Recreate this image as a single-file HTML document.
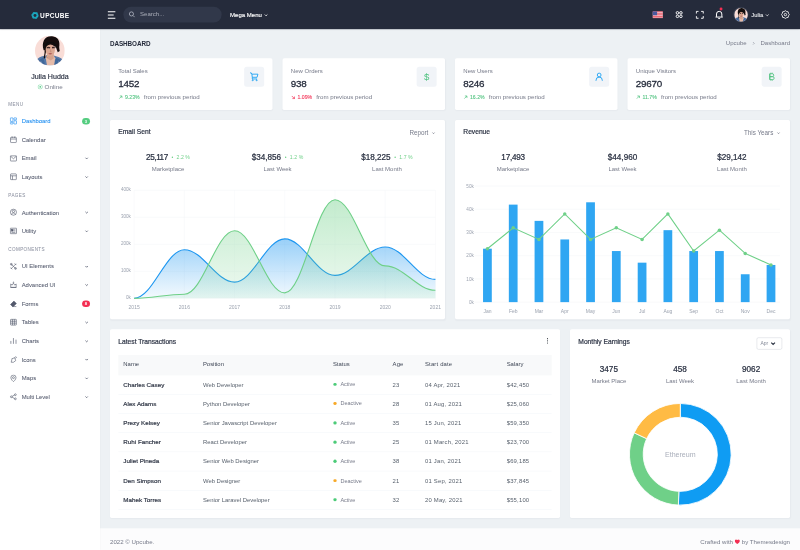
<!DOCTYPE html>
<html lang="en">
<head>
<meta charset="utf-8">
<title>Dashboard | Upcube</title>
<style>
*{box-sizing:border-box;margin:0;padding:0}
html,body{width:800px;height:550px;overflow:hidden;background:#edf1f4}
body{font-family:"Liberation Sans",sans-serif;color:#505d69}
#app{position:absolute;left:0;top:0;width:1920px;height:1320px;transform:scale(0.4166667);transform-origin:0 0;background:#edf1f4;font-size:14.4px;overflow:hidden}
.abs{position:absolute}
#topbar{position:absolute;left:0;top:0;width:1920px;height:70px;background:#252b3b;box-shadow:0 2px 5px rgba(15,34,58,0.14)}
#logo{position:absolute;left:0;top:0;width:240px;height:70px}
#logo .txt{position:absolute;font-weight:bold;color:#fff}
#search{position:absolute;left:296px;top:15.600px;width:236px;height:38px;border-radius:19px;background:#31384a}
#search span{position:absolute;left:40px;top:10px;font-size:14.500px;line-height:17px;color:#a9adb8}
.tb-text{position:absolute;color:#fff;font-size:14.4px;line-height:18px;font-weight:bold}
#sidebar{position:absolute;left:0;top:70px;width:240px;height:1250px;background:#fff;box-shadow:0 2px 5px rgba(15,34,58,0.12)}
.mtitle{position:absolute;left:20px;font-size:11px;line-height:16px;letter-spacing:0.9px;color:#8d92a1;text-transform:uppercase;-webkit-text-stroke:0.1px #8d92a1}
.mitem{position:absolute;left:0;width:240px;height:44.750px}
.mitem .lbl{position:absolute;left:52px;top:13.400px;font-size:14.2px;line-height:18px;color:#545a6d;-webkit-text-stroke:0.12px #545a6d}
.mitem.active .lbl{color:#1a8cf0;-webkit-text-stroke:0.12px #1a8cf0}
.mitem svg.ic{position:absolute;left:23.3px;top:13.200px;width:18.5px;height:18.5px;fill:none;stroke:#545a6d;stroke-width:1.9}
.mitem.active svg.ic{stroke:#1a8cf0}
.mitem svg.ch{position:absolute;left:202.5px;top:17.900px;width:10px;height:10px;fill:none;stroke:#545a6d;stroke-width:2.3}
.badge{position:absolute;left:196.5px;top:14.5px;width:19.5px;height:16px;border-radius:8px;color:#fff;font-size:10px;line-height:16px;text-align:center;font-weight:bold}
.card{position:absolute;background:#fff;border-radius:4px;box-shadow:0 2px 4px rgba(15,34,58,0.03)}
.ctitle{position:absolute;font-size:16px;line-height:20px;color:#2a3142;font-weight:normal;-webkit-text-stroke:0.45px #2a3142}
.muted{color:#767a89}
.stat .t{position:absolute;left:20px;top:21px;font-size:14.4px;line-height:18px;color:#767a89}
.stat .n{position:absolute;left:20px;top:47.5px;font-size:23.6px;line-height:26px;color:#252b3b;font-weight:normal;-webkit-text-stroke:0.65px #252b3b;letter-spacing:-0.6px}
.stat .p{position:absolute;left:20px;top:83.8px;font-size:14.700px;line-height:18px;color:#767a89;white-space:nowrap}
.stat .p b{font-size:12.4px;font-weight:normal;margin-right:10px;-webkit-text-stroke:0.2px currentColor}
.stat .ib{position:absolute;left:322px;top:20px;width:48px;height:48px;border-radius:6px;background:#f1f4f8}
.col3{position:absolute;text-align:center;white-space:nowrap}
.col3 .v{font-size:19.5px;line-height:24px;height:24px;font-weight:normal;-webkit-text-stroke:0.55px #2a3142;color:#2a3142}
.col3 .v small{font-size:12.3px;font-weight:normal;-webkit-text-stroke:0 transparent;color:#6fd088;margin-left:9px;position:relative;top:-2px;letter-spacing:0.2px}
.col3 .l{font-size:14.4px;line-height:18px;color:#767a89;margin-top:5px}
#tbl{position:absolute;left:20px;top:62px;width:1040px}
#tbl .hr{position:absolute;left:0;top:0;width:1040px;height:48.5px;background:#f8f9fa}
#tbl .r{position:absolute;left:0;width:1040px;height:46.2px;border-bottom:1px solid #eff2f7}
#tbl span{position:absolute;top:13px;font-size:14.2px;line-height:18px;color:#58616d;white-space:nowrap}
#tbl .hr span{top:12.8px;color:#3f4756}
#tbl .c1{left:12px}#tbl .c2{left:203px}#tbl .c3{left:515px}#tbl .c4{left:658px}#tbl .c5{left:736px}#tbl .c6{left:932px}
#tbl .r .c1{font-weight:normal;color:#2f3645;font-size:15px;-webkit-text-stroke:0.45px #2f3645}
#tbl .r .c3{font-size:13.2px;left:533px;color:#767a89}
#tbl .c4,#tbl .r .c5,#tbl .r .c6{letter-spacing:0.45px}
#tbl .hr .c5{letter-spacing:0.4px}
#tbl .r i{position:absolute;left:516px;top:18px;width:7.8px;height:7.8px;border-radius:50%;background:#4ccb78}
#tbl .r i.w{background:#f7a928}
#footer{position:absolute;left:240px;top:1268px;width:1680px;height:52px;background:#fcfcfd;font-size:14.7px;color:#767a89}
</style>
</head>
<body>
<div id="app">
<div class="abs" style="left:264px;top:95px;font-size:15.2px;line-height:20px;font-weight:bold;color:#252b3b;letter-spacing:-0.2px">DASHBOARD</div>
<div class="abs" style="left:1700px;top:94.5px;width:196px;text-align:right;font-size:14.5px;line-height:18px;color:#767a89;white-space:nowrap">Upcube<svg style="width:10px;height:10px;margin:0 11px 0 12px" viewBox="0 0 12 12" fill="none" stroke="#767a89" stroke-width="1.500"><path d="M4 2.500L7.500 6 4 9.500"/></svg>Dashboard</div>
<div class="card stat" style="left:264px;top:140px;width:390px;height:124px"><div class="t">Total Sales</div><div class="n">1452</div><div class="p"><svg style="width:11px;height:11px;margin-right:5px;position:relative;top:1px" viewBox="0 0 12 12" fill="none" stroke="#4ec27e" stroke-width="1.800"><path d="M2.500 9.500L9.500 2.500M4 2.500h5.500V8"/></svg><b style="color:#4ec27e">9.23%</b>from previous period</div><div class="ib"><svg class="abs" style="left:12px;top:12px;width:24px;height:24px" viewBox="0 0 24 24" fill="none" stroke="#0f9cf3" stroke-width="2"><path d="M2 3h3l1.500 3M6.500 6H21l-2 7.500H7.500zM7.500 13.500v4H19"/><circle cx="8.500" cy="20.500" r="1.300"/><circle cx="18" cy="20.500" r="1.300"/></svg></div></div>
<div class="card stat" style="left:678px;top:140px;width:390px;height:124px"><div class="t">New Orders</div><div class="n">938</div><div class="p"><svg style="width:11px;height:11px;margin-right:5px;position:relative;top:1px" viewBox="0 0 12 12" fill="none" stroke="#f32f53" stroke-width="1.800"><path d="M2.500 2.500l7 7M4 9.500h5.500V4"/></svg><b style="color:#f32f53">1.09%</b>from previous period</div><div class="ib"><div class="abs" style="left:0;top:11px;width:48px;text-align:center;font-size:23px;line-height:26px;color:#4ec27e;font-weight:normal">$</div></div></div>
<div class="card stat" style="left:1092px;top:140px;width:390px;height:124px"><div class="t">New Users</div><div class="n">8246</div><div class="p"><svg style="width:11px;height:11px;margin-right:5px;position:relative;top:1px" viewBox="0 0 12 12" fill="none" stroke="#4ec27e" stroke-width="1.800"><path d="M2.500 9.500L9.500 2.500M4 2.500h5.500V8"/></svg><b style="color:#4ec27e">16.2%</b>from previous period</div><div class="ib"><svg class="abs" style="left:12px;top:12px;width:24px;height:24px" viewBox="0 0 24 24" fill="none" stroke="#0f9cf3" stroke-width="2"><circle cx="12" cy="8" r="4.500"/><path d="M4.500 22v-1.500a7.500 7.500 0 0115 0V22"/></svg></div></div>
<div class="card stat" style="left:1506px;top:140px;width:390px;height:124px"><div class="t">Unique Visitors</div><div class="n">29670</div><div class="p"><svg style="width:11px;height:11px;margin-right:5px;position:relative;top:1px" viewBox="0 0 12 12" fill="none" stroke="#4ec27e" stroke-width="1.800"><path d="M2.500 9.500L9.500 2.500M4 2.500h5.500V8"/></svg><b style="color:#4ec27e">11.7%</b>from previous period</div><div class="ib"><svg class="abs" style="left:12px;top:12px;width:24px;height:24px" viewBox="0 0 24 24" fill="none" stroke="#4ec27e" stroke-width="2"><path d="M7.500 5h6a3.400 3.400 0 010 7h-6zM7.500 12h7a3.500 3.500 0 010 7h-7zM7.500 5v14M10 2.500V5M13.500 2.500V5M10 19v2.500M13.500 19v2.500"/></svg></div></div>
<div class="card" style="left:264px;top:288px;width:804px;height:478px">
<div class="ctitle" style="left:20px;top:18px">Email Sent</div>
<div class="abs muted" style="right:23px;top:21.5px;font-size:15.1px;line-height:18px;white-space:nowrap">Report<svg style="width:9px;height:9px;margin-left:8px" viewBox="0 0 12 12" fill="none" stroke="#767a89" stroke-width="2.600"><path d="M2.500 4.200L6 7.700l3.500-3.500"/></svg></div>
<div class="col3" style="left:19.3px;top:77.0px;width:240px"><div class="v"><span style="letter-spacing:-1.0px">25,117</span><small>&#8226;&nbsp; 2.2 %</small></div><div class="l" style="margin-top:8.0px">Marketplace</div></div>
<div class="col3" style="left:282.0px;top:77.0px;width:240px"><div class="v">$34,856<small>&#8226;&nbsp; 1.2 %</small></div><div class="l" style="margin-top:8.0px">Last Week</div></div>
<div class="col3" style="left:544.7px;top:77.0px;width:240px"><div class="v">$18,225<small>&#8226;&nbsp; 1.7 %</small></div><div class="l" style="margin-top:8.0px">Last Month</div></div>
<svg class="abs" style="left:0;top:0;width:804px;height:478px" viewBox="0 0 804 478"><defs><linearGradient id="gb" x1="0" y1="0" x2="0" y2="1"><stop offset="0" stop-color="#1c96f0" stop-opacity="0.45"/><stop offset="1" stop-color="#1c96f0" stop-opacity="0.05"/></linearGradient><linearGradient id="gg" x1="0" y1="0" x2="0" y2="1"><stop offset="0" stop-color="#6fd088" stop-opacity="0.42"/><stop offset="1" stop-color="#6fd088" stop-opacity="0.12"/></linearGradient></defs><path d="M58.0 168.6H781.0" stroke="#f1f3f5" stroke-width="1"/><text x="50" y="170.6" text-anchor="end" font-size="11" fill="#9ba2af">400k</text><path d="M58.0 233.4H781.0" stroke="#f1f3f5" stroke-width="1"/><text x="50" y="235.4" text-anchor="end" font-size="11" fill="#9ba2af">300k</text><path d="M58.0 298.3H781.0" stroke="#f1f3f5" stroke-width="1"/><text x="50" y="300.3" text-anchor="end" font-size="11" fill="#9ba2af">200k</text><path d="M58.0 363.1H781.0" stroke="#f1f3f5" stroke-width="1"/><text x="50" y="365.1" text-anchor="end" font-size="11" fill="#9ba2af">100k</text><path d="M58.0 428.0H781.0" stroke="#f1f3f5" stroke-width="1"/><text x="50" y="430.0" text-anchor="end" font-size="11" fill="#9ba2af">0k</text><path d="M58.0 168.6V436.0" stroke="#f4f5f7" stroke-width="1"/><text x="58.0" y="453.500" text-anchor="middle" font-size="12" fill="#9ba2af">2015</text><path d="M178.5 168.6V436.0" stroke="#f4f5f7" stroke-width="1"/><text x="178.5" y="453.500" text-anchor="middle" font-size="12" fill="#9ba2af">2016</text><path d="M299.0 168.6V436.0" stroke="#f4f5f7" stroke-width="1"/><text x="299.0" y="453.500" text-anchor="middle" font-size="12" fill="#9ba2af">2017</text><path d="M419.5 168.6V436.0" stroke="#f4f5f7" stroke-width="1"/><text x="419.5" y="453.500" text-anchor="middle" font-size="12" fill="#9ba2af">2018</text><path d="M540.0 168.6V436.0" stroke="#f4f5f7" stroke-width="1"/><text x="540.0" y="453.500" text-anchor="middle" font-size="12" fill="#9ba2af">2019</text><path d="M660.5 168.6V436.0" stroke="#f4f5f7" stroke-width="1"/><text x="660.5" y="453.500" text-anchor="middle" font-size="12" fill="#9ba2af">2020</text><path d="M781.0 168.6V436.0" stroke="#f4f5f7" stroke-width="1"/><text x="781.0" y="453.500" text-anchor="middle" font-size="12" fill="#9ba2af">2021</text><path d="M58.0 428.0 C102.6 428.0 133.9 311.3 178.5 311.3 C223.1 311.3 254.4 389.1 299.0 389.1 C343.6 389.1 374.9 285.3 419.5 285.3 C464.1 285.3 495.4 372.9 540.0 372.9 C584.6 372.9 615.9 304.8 660.5 304.8 C705.1 304.8 736.4 382.6 781.0 382.6 L781.0 428.0 L58.0 428.0 Z" fill="url(#gb)"/><path d="M58.0 428.0 C102.6 428.0 133.9 311.3 178.5 311.3 C223.1 311.3 254.4 389.1 299.0 389.1 C343.6 389.1 374.9 285.3 419.5 285.3 C464.1 285.3 495.4 372.9 540.0 372.9 C584.6 372.9 615.9 304.8 660.5 304.8 C705.1 304.8 736.4 382.6 781.0 382.6" fill="none" stroke="#1c96f0" stroke-width="2.700"/><path d="M58.0 428.0 C102.6 428.0 133.9 418.3 178.5 418.3 C223.1 418.3 254.4 265.9 299.0 265.9 C343.6 265.9 374.9 415.0 419.5 415.0 C464.1 415.0 495.4 191.3 540.0 191.3 C584.6 191.3 615.9 350.2 660.5 350.2 C705.1 350.2 736.4 408.5 781.0 408.5 L781.0 428.0 L58.0 428.0 Z" fill="url(#gg)"/><path d="M58.0 428.0 C102.6 428.0 133.9 418.3 178.5 418.3 C223.1 418.3 254.4 265.9 299.0 265.9 C343.6 265.9 374.9 415.0 419.5 415.0 C464.1 415.0 495.4 191.3 540.0 191.3 C584.6 191.3 615.9 350.2 660.5 350.2 C705.1 350.2 736.4 408.5 781.0 408.5" fill="none" stroke="#6fd088" stroke-width="2.700"/></svg>
</div>
<div class="card" style="left:1092px;top:288px;width:804px;height:478px">
<div class="ctitle" style="left:20px;top:18px">Revenue</div>
<div class="abs muted" style="right:23px;top:21.5px;font-size:15.1px;line-height:18px;white-space:nowrap">This Years<svg style="width:9px;height:9px;margin-left:8px" viewBox="0 0 12 12" fill="none" stroke="#767a89" stroke-width="2.600"><path d="M2.500 4.200L6 7.700l3.500-3.500"/></svg></div>
<div class="col3" style="left:19.3px;top:77.0px;width:240px"><div class="v"><span style="letter-spacing:-0.6px">17,493</span></div><div class="l" style="margin-top:8.0px">Marketplace</div></div>
<div class="col3" style="left:282.0px;top:77.0px;width:240px"><div class="v">$44,960</div><div class="l" style="margin-top:8.0px">Last Week</div></div>
<div class="col3" style="left:544.7px;top:77.0px;width:240px"><div class="v">$29,142</div><div class="l" style="margin-top:8.0px">Last Month</div></div>
<svg class="abs" style="left:0;top:0;width:804px;height:478px" viewBox="0 0 804 478"><path d="M46.900 158.5H780" stroke="#f1f3f5" stroke-width="1"/><text x="45" y="162.5" text-anchor="end" font-size="11" fill="#9ba2af">50k</text><path d="M46.900 214.2H780" stroke="#f1f3f5" stroke-width="1"/><text x="45" y="218.2" text-anchor="end" font-size="11" fill="#9ba2af">40k</text><path d="M46.900 269.9H780" stroke="#f1f3f5" stroke-width="1"/><text x="45" y="273.9" text-anchor="end" font-size="11" fill="#9ba2af">30k</text><path d="M46.900 325.7H780" stroke="#f1f3f5" stroke-width="1"/><text x="45" y="329.7" text-anchor="end" font-size="11" fill="#9ba2af">20k</text><path d="M46.900 381.4H780" stroke="#f1f3f5" stroke-width="1"/><text x="45" y="385.4" text-anchor="end" font-size="11" fill="#9ba2af">10k</text><path d="M46.900 437.1H780" stroke="#f1f3f5" stroke-width="1"/><text x="45" y="441.1" text-anchor="end" font-size="11" fill="#9ba2af">0k</text><rect x="67.3" y="308.9" width="21" height="128.2" fill="#2fa6f2"/><text x="77.8" y="463" text-anchor="middle" font-size="12" fill="#9ba2af">Jan</text><rect x="129.2" y="203.1" width="21" height="234.0" fill="#2fa6f2"/><text x="139.7" y="463" text-anchor="middle" font-size="12" fill="#9ba2af">Feb</text><rect x="191.0" y="242.1" width="21" height="195.0" fill="#2fa6f2"/><text x="201.5" y="463" text-anchor="middle" font-size="12" fill="#9ba2af">Mar</text><rect x="252.9" y="286.7" width="21" height="150.4" fill="#2fa6f2"/><text x="263.4" y="463" text-anchor="middle" font-size="12" fill="#9ba2af">Apr</text><rect x="314.8" y="197.5" width="21" height="239.6" fill="#2fa6f2"/><text x="325.3" y="463" text-anchor="middle" font-size="12" fill="#9ba2af">May</text><rect x="376.6" y="314.5" width="21" height="122.6" fill="#2fa6f2"/><text x="387.1" y="463" text-anchor="middle" font-size="12" fill="#9ba2af">Jun</text><rect x="438.5" y="342.4" width="21" height="94.7" fill="#2fa6f2"/><text x="449.0" y="463" text-anchor="middle" font-size="12" fill="#9ba2af">Jul</text><rect x="500.4" y="264.4" width="21" height="172.7" fill="#2fa6f2"/><text x="510.9" y="463" text-anchor="middle" font-size="12" fill="#9ba2af">Aug</text><rect x="562.3" y="314.5" width="21" height="122.6" fill="#2fa6f2"/><text x="572.8" y="463" text-anchor="middle" font-size="12" fill="#9ba2af">Sep</text><rect x="624.1" y="314.5" width="21" height="122.6" fill="#2fa6f2"/><text x="634.6" y="463" text-anchor="middle" font-size="12" fill="#9ba2af">Oct</text><rect x="686.0" y="370.2" width="21" height="66.9" fill="#2fa6f2"/><text x="696.5" y="463" text-anchor="middle" font-size="12" fill="#9ba2af">Nov</text><rect x="747.9" y="347.9" width="21" height="89.2" fill="#2fa6f2"/><text x="758.4" y="463" text-anchor="middle" font-size="12" fill="#9ba2af">Dec</text><path d="M77.8 308.9 L139.7 258.8 L201.5 286.7 L263.4 225.4 L325.3 286.7 L387.1 258.8 L449.0 286.7 L510.9 225.4 L572.8 314.5 L634.6 264.4 L696.5 320.1 L758.4 347.9" fill="none" stroke="#6fd088" stroke-width="2.600"/><circle cx="77.8" cy="308.9" r="4.200" fill="#6fd088"/><circle cx="139.7" cy="258.8" r="4.200" fill="#6fd088"/><circle cx="201.5" cy="286.7" r="4.200" fill="#6fd088"/><circle cx="263.4" cy="225.4" r="4.200" fill="#6fd088"/><circle cx="325.3" cy="286.7" r="4.200" fill="#6fd088"/><circle cx="387.1" cy="258.8" r="4.200" fill="#6fd088"/><circle cx="449.0" cy="286.7" r="4.200" fill="#6fd088"/><circle cx="510.9" cy="225.4" r="4.200" fill="#6fd088"/><circle cx="572.8" cy="314.5" r="4.200" fill="#6fd088"/><circle cx="634.6" cy="264.4" r="4.200" fill="#6fd088"/><circle cx="696.5" cy="320.1" r="4.200" fill="#6fd088"/><circle cx="758.4" cy="347.9" r="4.200" fill="#6fd088"/></svg>
</div>
<div class="card" style="left:264px;top:790px;width:1080px;height:453px">
<div class="ctitle" style="left:20px;top:20px">Latest Transactions</div>
<svg class="abs" style="left:1046px;top:19px;width:8px;height:18px" viewBox="0 0 8 18" fill="#343a40"><circle cx="4" cy="3.800" r="1.350"/><circle cx="4" cy="9" r="1.350"/><circle cx="4" cy="14.200" r="1.350"/></svg>
<div id="tbl"><div class="hr"><span class="c1">Name</span><span class="c2">Position</span><span class="c3">Status</span><span class="c4">Age</span><span class="c5">Start date</span><span class="c6">Salary</span></div>
<div class="r" style="top:48.5px"><span class="c1">Charles Casey</span><span class="c2">Web Developer</span><i></i><span class="c3">Active</span><span class="c4">23</span><span class="c5">04 Apr, 2021</span><span class="c6">$42,450</span></div>
<div class="r" style="top:94.7px"><span class="c1">Alex Adams</span><span class="c2">Python Developer</span><i class="w"></i><span class="c3">Deactive</span><span class="c4">28</span><span class="c5">01 Aug, 2021</span><span class="c6">$25,060</span></div>
<div class="r" style="top:140.9px"><span class="c1">Prezy Kelsey</span><span class="c2">Senior Javascript Developer</span><i></i><span class="c3">Active</span><span class="c4">35</span><span class="c5">15 Jun, 2021</span><span class="c6">$59,350</span></div>
<div class="r" style="top:187.1px"><span class="c1">Ruhi Fancher</span><span class="c2">React Developer</span><i></i><span class="c3">Active</span><span class="c4">25</span><span class="c5">01 March, 2021</span><span class="c6">$23,700</span></div>
<div class="r" style="top:233.3px"><span class="c1">Juliet Pineda</span><span class="c2">Senior Web Designer</span><i></i><span class="c3">Active</span><span class="c4">38</span><span class="c5">01 Jan, 2021</span><span class="c6">$69,185</span></div>
<div class="r" style="top:279.5px"><span class="c1">Den Simpson</span><span class="c2">Web Designer</span><i class="w"></i><span class="c3">Deactive</span><span class="c4">21</span><span class="c5">01 Sep, 2021</span><span class="c6">$37,845</span></div>
<div class="r" style="top:325.7px"><span class="c1">Mahek Torres</span><span class="c2">Senior Laravel Developer</span><i></i><span class="c3">Active</span><span class="c4">32</span><span class="c5">20 May, 2021</span><span class="c6">$55,100</span></div>
</div></div>
<div class="card" style="left:1368px;top:790px;width:528px;height:453px">
<div class="ctitle" style="left:20px;top:20px">Monthly Earnings</div>
<div class="abs" style="left:448px;top:20px;width:61px;height:29px;border:1.3px solid #c6ccd4;border-radius:4px;background:#fff"><span class="abs" style="left:8px;top:5.5px;font-size:12px;line-height:15px;color:#858a98">Apr</span><svg class="abs" style="left:31.500px;top:8px;width:13px;height:12px" viewBox="0 0 13 12" fill="none" stroke="#2f3645" stroke-width="2.900"><path d="M2 3.300L6.500 7.800l4.500-4.500"/></svg></div>
<div class="col3" style="left:-26.7px;top:84.0px;width:240px"><div class="v">3475</div><div class="l" style="margin-top:8.0px">Market Place</div></div>
<div class="col3" style="left:144.0px;top:84.0px;width:240px"><div class="v">458</div><div class="l" style="margin-top:8.0px">Last Week</div></div>
<div class="col3" style="left:314.7px;top:84.0px;width:240px"><div class="v">9062</div><div class="l" style="margin-top:8.0px">Last Month</div></div>
<svg class="abs" style="left:0;top:0;width:528px;height:453px" viewBox="0 0 528 453"><path d="M264.70 178.30 A122.0 122.0 0 1 1 260.08 422.21 L261.33 389.24 A89.0 89.0 0 1 0 264.70 211.30 Z" fill="#0f9cf3" stroke="#fff" stroke-width="2"/><path d="M260.08 422.21 A122.0 122.0 0 0 1 154.08 248.86 L184.00 262.77 A89.0 89.0 0 0 0 261.33 389.24 Z" fill="#6fd088" stroke="#fff" stroke-width="2"/><path d="M154.08 248.86 A122.0 122.0 0 0 1 264.70 178.30 L264.70 211.30 A89.0 89.0 0 0 0 184.00 262.77 Z" fill="#ffbb44" stroke="#fff" stroke-width="2"/><text x="264.7" y="305.8" text-anchor="middle" font-size="17" fill="#a9aeba">Ethereum</text></svg>
</div>
<div id="footer"><div class="abs" style="left:24px;top:23px;line-height:18px">2022 &copy; Upcube.</div><div class="abs" style="right:24px;top:23px;line-height:18px;white-space:nowrap">Crafted with <svg style="width:13px;height:12px;position:relative;top:1px" viewBox="0 0 24 22"><path d="M12 21.500C5 15.500 1 12 1 7.500A6 6 0 0112 4a6 6 0 0111 3.500c0 4.500-4 8-11 14z" fill="#f32f53"/></svg> by Themesdesign</div></div>
<div id="sidebar">
<svg class="abs" style="left:0;top:0;width:0;height:0" viewBox="0 0 72 72"><defs>
<filter id="bl" x="-10%" y="-10%" width="120%" height="120%"><feGaussianBlur stdDeviation="1.1"/></filter>
<clipPath id="cb"><circle cx="36" cy="36" r="36"/></clipPath>
<g id="face" clip-path="url(#cb)"><rect width="72" height="72" fill="#f9ddd7"/>
<g filter="url(#bl)">
<path d="M0 72c0-13 7-20 20-23l9-2h14l10 3c11 3 19 9 19 22z" fill="#5579a8"/>
<path d="M3 72c2-10 8-15 17-19l5 19zM69 72c-2-10-8-16-18-19l-5 19z" fill="#41679a"/>
<path d="M14 60l6 12h-9zM58 60l-5 12h9z" fill="#7e9bc0"/>
<path d="M26 54l5-8h13l5 8-3 18H29z" fill="#e5bba9"/>
<path d="M30 43h15v12l-7 5-8-5z" fill="#d3a18c"/>
<path d="M21 35C15 16 23 1 39 1c13-1 21 8 20 21-1 6 0 10 1 15l-5 3-5-14-14-7-8 10-2 13c-1 4-2 8-2 13l-3-1c1-8 3-13 2-20z" fill="#120d0d"/>
<ellipse cx="37" cy="34.500" rx="11.200" ry="15" fill="#dba792"/>
<path d="M25 26c2-9 9-12 16-10 7 2 10 7 9 14-2-5-6-8-12-9-4 1-9 2-13 5z" fill="#120d0d"/>
<path d="M28 27.500c2.500-1.800 6.500-1.800 9 0l-.8 3.200c-2.500-1-5-1-7.400 0z" fill="#3a2626"/>
<path d="M41 27.500c2-1.500 5-1.500 7 0l-.5 3c-2-.8-4-.8-6 0z" fill="#3a2626"/>
<path d="M32 43c2.500-2 7-2 10 0-2.500 3-7.500 3-10 0z" fill="#b05d58"/>
<path d="M38 31l2 8.500-4 .5z" fill="#c78d7a"/>
<path d="M24 40c1 6 4 10 7 12l-1 3c-4-3-6-8-6-15z" fill="#b98a77"/>
</g></g></defs></svg>
<svg class="abs" style="left:84.300px;top:16.300px;width:71.400px;height:71.400px" viewBox="0 0 72 72"><use href="#face"/></svg>

<div class="abs" style="left:0;top:104.5px;width:240px;text-align:center;font-size:17px;line-height:20px;color:#2a3142;-webkit-text-stroke:0.4px #2a3142">Julia Hudda</div>
<svg class="abs" style="left:90px;top:132px;width:13px;height:13px" viewBox="0 0 14 14"><circle cx="7" cy="7" r="5.700" fill="none" stroke="#5fcf8c" stroke-width="1.300"/><circle cx="7" cy="7" r="2" fill="#46c37b"/></svg>
<div class="abs" style="left:107px;top:129px;font-size:15px;line-height:18px;color:#767a89">Online</div>
<div class="mtitle" style="top:171.8px">Menu</div>
<div class="mitem active" style="top:198.0px"><svg class="ic" viewBox="0 0 24 24"><rect x="2.5" y="2.500" width="8" height="11" rx="1"/><rect x="13.500" y="2.500" width="8" height="6" rx="1"/><rect x="2.500" y="16.500" width="8" height="5" rx="1"/><rect x="13.500" y="11.500" width="8" height="10" rx="1"/></svg><div class="lbl">Dashboard</div><div class="badge" style="background:#55cd80">3</div></div>
<div class="mitem" style="top:242.8px"><svg class="ic" viewBox="0 0 24 24"><rect x="3" y="4.500" width="18" height="16.500" rx="2"/><path d="M3 10h18M8 2v5M16 2v5"/></svg><div class="lbl">Calendar</div></div>
<div class="mitem" style="top:287.5px"><svg class="ic" viewBox="0 0 24 24"><rect x="2.500" y="4" width="19" height="16" rx="1.500"/><path d="M3 5l9 8 9-8"/></svg><div class="lbl">Email</div><svg class="ch" viewBox="0 0 12 12"><path d="M2.5 4.2L6 7.7l3.5-3.5"/></svg></div>
<div class="mitem" style="top:332.2px"><svg class="ic" viewBox="0 0 24 24"><rect x="3" y="3" width="18" height="18" rx="1.500"/><path d="M3 9h18M9 9v12"/></svg><div class="lbl">Layouts</div><svg class="ch" viewBox="0 0 12 12"><path d="M2.5 4.2L6 7.7l3.5-3.5"/></svg></div>
<div class="mtitle" style="top:391.0px">Pages</div>
<div class="mitem" style="top:417.2px"><svg class="ic" viewBox="0 0 24 24"><circle cx="12" cy="12" r="9.500"/><circle cx="12" cy="9.500" r="3.500"/><path d="M5.500 19c1.500-3.500 4-4.500 6.500-4.500s5 1 6.500 4.500"/></svg><div class="lbl">Authentication</div><svg class="ch" viewBox="0 0 12 12"><path d="M2.5 4.2L6 7.7l3.5-3.5"/></svg></div>
<div class="mitem" style="top:461.9px"><svg class="ic" viewBox="0 0 24 24"><rect x="2.500" y="3.500" width="19" height="17" rx="1"/><rect x="6" y="7.500" width="5" height="5" fill="#545a6d"/><path d="M14 8.500h4M14 12h4M6 16.500h12"/></svg><div class="lbl">Utility</div><svg class="ch" viewBox="0 0 12 12"><path d="M2.5 4.2L6 7.7l3.5-3.5"/></svg></div>
<div class="mtitle" style="top:520.7px">Components</div>
<div class="mitem" style="top:546.9px"><svg class="ic" viewBox="0 0 24 24"><path d="M4 4l16 16M20 4L4 20"/><circle cx="5.500" cy="5.500" r="2.800"/><circle cx="18.500" cy="18.500" r="2.800"/><path d="M16 3l5 5M3 16l5 5"/></svg><div class="lbl">UI Elements</div><svg class="ch" viewBox="0 0 12 12"><path d="M2.5 4.2L6 7.7l3.5-3.5"/></svg></div>
<div class="mitem" style="top:591.6px"><svg class="ic" viewBox="0 0 24 24"><path d="M3 19.500h18M3.500 19V8.500l4.500 3.500 4-6 4 6 4.500-3.500V19z"/><circle cx="12" cy="3" r="1.200"/></svg><div class="lbl">Advanced UI</div><svg class="ch" viewBox="0 0 12 12"><path d="M2.5 4.2L6 7.7l3.5-3.5"/></svg></div>
<div class="mitem" style="top:636.4px"><svg class="ic" viewBox="0 0 24 24"><path d="M9 20L3 14 13.500 3.500l7.500 7.500L12 20z" fill="#545a6d"/><path d="M8 20.500h13"/></svg><div class="lbl">Forms</div><div class="badge" style="background:#f32f53">8</div></div>
<div class="mitem" style="top:681.1px"><svg class="ic" viewBox="0 0 24 24"><rect x="3" y="3" width="18" height="18" rx="1.500"/><path d="M3 9h18M3 15h18M9 3v18M15 3v18" /></svg><div class="lbl">Tables</div><svg class="ch" viewBox="0 0 12 12"><path d="M2.5 4.2L6 7.7l3.5-3.5"/></svg></div>
<div class="mitem" style="top:725.9px"><svg class="ic" viewBox="0 0 24 24"><path d="M4 12v9M12 3v18M20 8v13" stroke-width="2"/></svg><div class="lbl">Charts</div><svg class="ch" viewBox="0 0 12 12"><path d="M2.5 4.2L6 7.7l3.5-3.5"/></svg></div>
<div class="mitem" style="top:770.6px"><svg class="ic" viewBox="0 0 24 24"><path d="M7 9l9-3 3 9-7 5H5c0-3 2-5 2-8z"/><path d="M16 6l3-3.500 2.500 2.500L19 8"/></svg><div class="lbl">Icons</div><svg class="ch" viewBox="0 0 12 12"><path d="M2.5 4.2L6 7.7l3.5-3.5"/></svg></div>
<div class="mitem" style="top:815.4px"><svg class="ic" viewBox="0 0 24 24"><path d="M12 22s-8-6.500-8-12.500a8 8 0 0116 0C20 15.500 12 22 12 22z"/><circle cx="12" cy="9.500" r="3"/></svg><div class="lbl">Maps</div><svg class="ch" viewBox="0 0 12 12"><path d="M2.5 4.2L6 7.7l3.5-3.5"/></svg></div>
<div class="mitem" style="top:860.1px"><svg class="ic" viewBox="0 0 24 24"><circle cx="5.500" cy="12" r="2.800"/><circle cx="18" cy="5.500" r="2.800"/><circle cx="18" cy="18.500" r="2.800"/><path d="M8 10.500l7.500-3.800M8 13.500l7.500 3.800"/></svg><div class="lbl">Multi Level</div><svg class="ch" viewBox="0 0 12 12"><path d="M2.5 4.2L6 7.7l3.5-3.5"/></svg></div>
</div>
<div id="topbar">
  <div id="logo">
    <svg class="abs" style="left:74.500px;top:27.500px;width:18px;height:18px" viewBox="0 0 24 24"><path d="M23.60 12.00 L23.20 15.00 L20.83 17.10 L19.21 19.21 L17.80 22.05 L15.00 23.20 L12.00 22.20 L9.36 21.85 L6.20 22.05 L3.80 20.20 L3.17 17.10 L2.15 14.64 L0.40 12.00 L0.80 9.00 L3.17 6.90 L4.79 4.79 L6.20 1.95 L9.00 0.80 L12.00 1.80 L14.64 2.15 L17.80 1.95 L20.20 3.80 L20.83 6.90 L21.85 9.36Z" fill="#1ba5bc" stroke="#1ba5bc" stroke-width="1" stroke-linejoin="round"/><circle cx="12" cy="12" r="4.700" fill="#252b3b"/><circle cx="12" cy="4.500" r="1.400" fill="#35c6dc"/><circle cx="5.500" cy="15.800" r="1.400" fill="#35c6dc"/><circle cx="18.500" cy="15.800" r="1.400" fill="#35c6dc"/></svg>
    <div class="txt" style="left:95.800px;top:25px;font-size:19.2px;line-height:22px;letter-spacing:0.8px;transform:scaleX(0.815);transform-origin:0 0"><span style="letter-spacing:1.5px">U</span>PCUBE</div>
  </div>
  <svg class="abs" style="left:258px;top:25px;width:20px;height:22px" viewBox="0 0 20 22"><path d="M0.5 3.1h18.5M0.5 11h14.3M0.5 18.9h18.5" stroke="#fff" stroke-width="2.6" fill="none"/></svg>
  <div id="search">
    <svg class="abs" style="left:12px;top:10px;width:17px;height:17px" viewBox="0 0 24 24" fill="none" stroke="#c5c9d4" stroke-width="2.4"><circle cx="10.5" cy="10.5" r="7"/><path d="M16 16l5.5 5.5"/></svg>
    <span>Search...</span>
  </div>
  <div class="tb-text" style="left:552px;top:26.600px;font-size:14.5px;font-weight:normal;-webkit-text-stroke:0.3px #fff">Mega Menu</div>
  <svg class="abs" style="left:633px;top:31px;width:11px;height:11px" viewBox="0 0 12 12" fill="none" stroke="#fff" stroke-width="2"><path d="M2.5 4.2L6 7.7l3.5-3.5"/></svg>

  <!-- flag -->
  <svg class="abs" style="left:1566px;top:27px;width:25px;height:17px" viewBox="0 0 25 17"><rect width="25" height="17" rx="1.5" fill="#f4c9cf"/><g fill="#e8505f"><rect y="0" width="25" height="1.9"/><rect y="3.8" width="25" height="1.9"/><rect y="7.6" width="25" height="1.9"/><rect y="11.4" width="25" height="1.9"/><rect y="15.1" width="25" height="1.9"/></g><rect width="11" height="9.5" fill="#4a5a9e"/></svg>
  <!-- apps icon -->
  <svg class="abs" style="left:1620px;top:25px;width:20px;height:20px" viewBox="0 0 24 24" fill="none" stroke="#fff" stroke-width="2.700"><circle cx="7" cy="7" r="3.7"/><circle cx="17" cy="7" r="3.7"/><circle cx="7" cy="17" r="3.7"/><circle cx="17" cy="17" r="3.7"/></svg>
  <!-- fullscreen -->
  <svg class="abs" style="left:1669px;top:25px;width:21px;height:21px" viewBox="0 0 24 24" fill="none" stroke="#fff" stroke-width="2.6"><path d="M2.5 8.5v-6h6M15.5 2.5h6v6M21.5 15.5v6h-6M8.500 21.5h-6v-6"/></svg>
  <!-- bell -->
  <svg class="abs" style="left:1715px;top:23px;width:22px;height:24px" viewBox="0 0 24 26" fill="none" stroke="#fff" stroke-width="2.600"><path d="M5 19V11.5a7 7 0 0114 0V19M2.500 19.500h19M9.500 23.500h5"/></svg>
  <div class="abs" style="left:1727px;top:18px;width:7px;height:7px;border-radius:50%;background:#f32f53"></div>
  <!-- avatar -->
  <div class="abs" style="left:1760px;top:17.300px;width:36px;height:36px;border-radius:50%;background:#3b4254"></div>
  <svg class="abs" style="left:1761.500px;top:18.800px;width:33px;height:33px" viewBox="0 0 72 72"><use href="#face"/></svg>
  <div class="tb-text" style="left:1803px;top:26px;font-size:14px;font-weight:normal;-webkit-text-stroke:0.15px #fff;color:#f1f2f5">Julia</div>
  <svg class="abs" style="left:1836px;top:31px;width:11px;height:11px" viewBox="0 0 12 12" fill="none" stroke="#fff" stroke-width="2"><path d="M2.5 4.2L6 7.7l3.5-3.5"/></svg>
  <!-- gear -->
  <svg class="abs" style="left:1874px;top:24px;width:22px;height:22px" viewBox="0 0 24 24" fill="none" stroke="#fff" stroke-width="2.200" stroke-linejoin="round"><path d="M12.00 1.70 L15.29 4.05 L19.28 4.72 L19.95 8.71 L22.30 12.00 L19.95 15.29 L19.28 19.28 L15.29 19.95 L12.00 22.30 L8.71 19.95 L4.72 19.28 L4.05 15.29 L1.70 12.00 L4.05 8.71 L4.72 4.72 L8.71 4.05Z"/><circle cx="12" cy="12" r="3.200"/></svg>
</div>

</div>
</body>
</html>
